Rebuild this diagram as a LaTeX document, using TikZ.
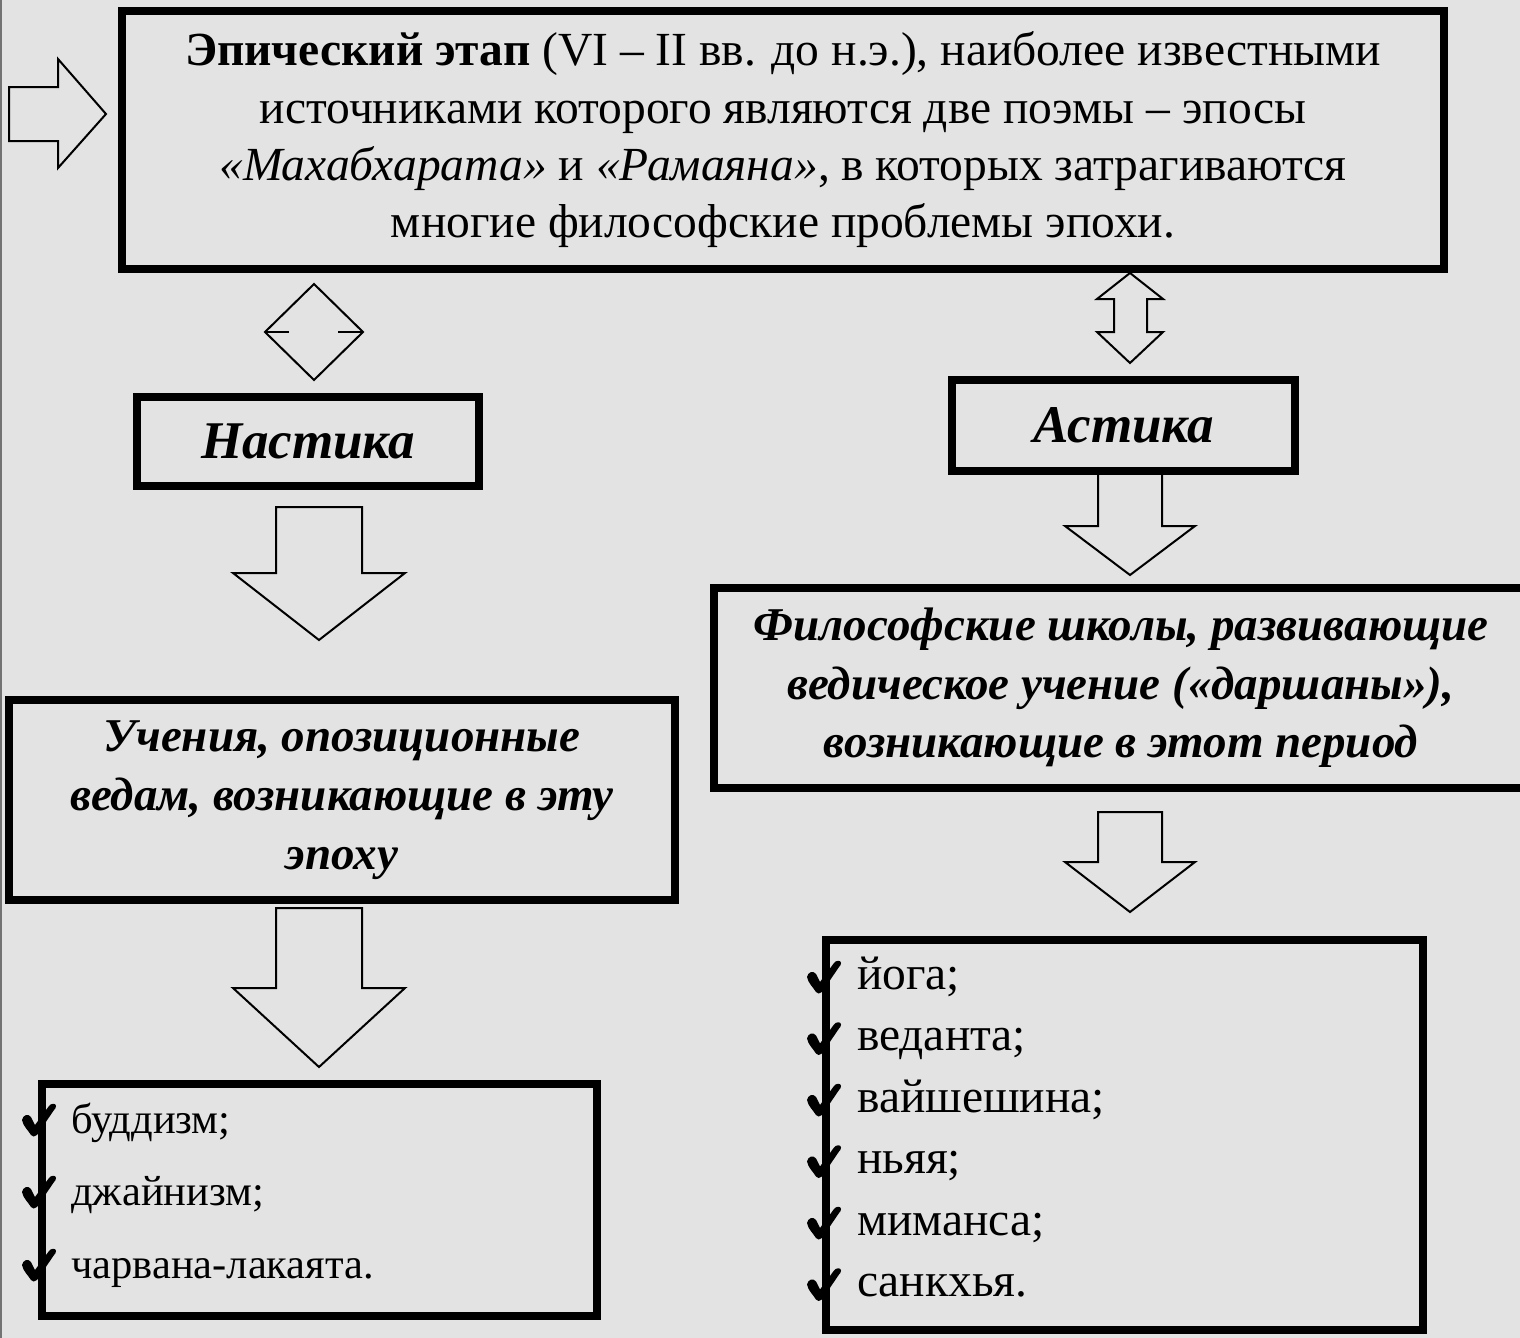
\documentclass[tikz,border=0pt]{standalone}
\usepackage{fontspec}
\setmainfont{Liberation Serif}
\tikzset{
  frame/.style={draw=black, line width=8pt, inner sep=0pt, outer sep=0pt},
  blk/.style={draw=black, line width=2pt, line join=miter},
  itemL/.style={anchor=base west, inner sep=0pt, font=\fontsize{42.5}{42.5}\selectfont},
  itemR/.style={anchor=base west, inner sep=0pt, font=\fontsize{47.5}{47.5}\selectfont},
  checkmark/.pic={
    \fill[black] (0,17) .. controls (1,12) and (6,10) .. (9,14)
      -- (13,22) -- (27,3) .. controls (29,0) and (34,0) .. (34,3)
      .. controls (34,5) and (33,6) .. (32,7)
      -- (15,32) .. controls (13,34) and (10,34) .. (9,32)
      .. controls (6,27) and (1,23) .. (0,17) -- cycle;
  },
}
\newcommand{\DownBlockArrow}[6]{%
  \draw[blk] (#1-#3,#2) -- (#1+#3,#2) -- (#1+#3,#5) -- (#1+#4,#5) -- (#1,#6)
    -- (#1-#4,#5) -- (#1-#3,#5) -- cycle;}
\begin{document}
\begin{tikzpicture}[x=1pt,y=-1pt]
\useasboundingbox (0,0) rectangle (1520,1338);
\fill[black!11] (0,0) rectangle (1520,1338);
\draw[line width=2pt, black!55] (1,0) -- (1,1338);

% boxes
\node[frame, minimum width=1322, minimum height=258, align=center,
      font=\fontsize{47.5}{57.3}\selectfont] (top) at (783,140)
  {\textbf{Эпический этап} (VI – II вв. до н.э.), наиболее известными\\
   источниками которого являются две поэмы – эпосы\\
   \textit{«Махабхарата»} и \textit{«Рамаяна»}, в которых затрагиваются\\
   многие философские проблемы эпохи.};
\node[frame, minimum width=342, minimum height=89,
      font=\fontsize{53}{60}\selectfont\bfseries\itshape] (nast) at (308,441.5) {Настика};
\node[frame, minimum width=343, minimum height=91,
      font=\fontsize{53}{60}\selectfont\bfseries\itshape] (ast) at (1123.5,425.5) {Астика};
\node[frame, minimum width=814, minimum height=200, align=center,
      font=\fontsize{47}{58.5}\selectfont\bfseries\itshape] (phil) at (1121,688)
  {Философские школы, развивающие\\
   ведическое учение («даршаны»),\\
   возникающие в этот период};
\node[frame, minimum width=666, minimum height=200, align=center,
      font=\fontsize{47}{59}\selectfont\bfseries\itshape] (teach) at (342,800)
  {Учения, опозиционные\\
   ведам, возникающие в эту\\
   эпоху};
\node[frame, minimum width=555, minimum height=232] (listL) at (319.5,1200) {};
\node[frame, minimum width=597, minimum height=390] (listR) at (1124.5,1135) {};

% left list
\pic at (22,1103) {checkmark};
\pic at (22,1175) {checkmark};
\pic at (22,1248) {checkmark};
\node[itemL] (iL1) at (71,1133) {буддизм;};
\node[itemL] (iL2) at (71,1205) {джайнизм;};
\node[itemL] (iL3) at (71,1278) {чарвана-лакаята.};

% right list
\pic at (807,960) {checkmark};
\pic at (807,1021.5) {checkmark};
\pic at (807,1083) {checkmark};
\pic at (807,1144.5) {checkmark};
\pic at (807,1206) {checkmark};
\pic at (807,1267.5) {checkmark};
\node[itemR] (iR1) at (857,989) {йога;};
\node[itemR] (iR2) at (857,1050.5) {веданта;};
\node[itemR] (iR3) at (857,1112) {вайшешина;};
\node[itemR] (iR4) at (857,1173.5) {ньяя;};
\node[itemR] (iR5) at (857,1235) {миманса;};
\node[itemR] (iR6) at (857,1296.5) {санкхья.};

% block arrows
\draw[blk] (9,87) -- (58,87) -- (58,59) -- (106,114) -- (58,168) -- (58,141) -- (9,141) -- cycle;
\draw[blk] (314,284) -- (363,332) -- (314,380) -- (265,332) -- cycle;
\draw[blk] (265,332) -- (289,332) (338,332) -- (363,332);
\draw[blk] (1130,273) -- (1163,299) -- (1147,299) -- (1147,332) -- (1163,332) -- (1130,363)
  -- (1097,332) -- (1114,332) -- (1114,299) -- (1097,299) -- cycle;
\DownBlockArrow{319}{507}{43}{86}{573}{640}
\DownBlockArrow{319}{908}{43}{86}{988}{1067}
\DownBlockArrow{1130}{471}{32}{65}{526}{575}
\DownBlockArrow{1130}{812}{32}{65}{862}{912}
\end{tikzpicture}
\end{document}
